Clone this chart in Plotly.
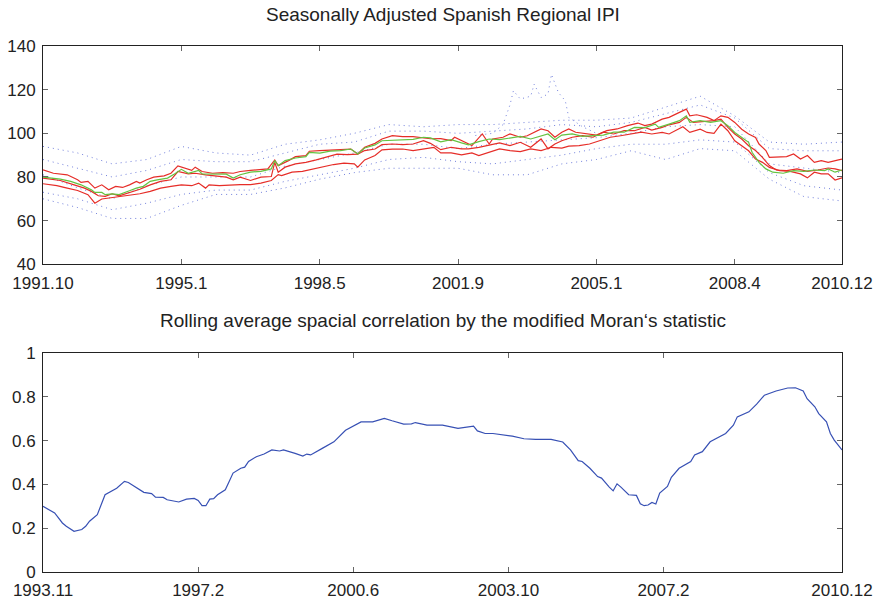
import plotly.graph_objects as go

# ---- top panel: seasonally adjusted IPI (month index from 1991.10) ----
top_ticks = [0, 40, 80, 120, 160, 200, 231]
top_labels = ['1991.10', '1995.1', '1998.5', '2001.9', '2005.1', '2008.4', '2010.12']

red_hi_x = [0, 3, 7, 10, 11, 13, 15, 17, 19, 21, 23, 25, 27, 28, 30, 32, 35, 37, 39, 41, 43, 44, 46, 49, 52, 55, 57,
            60, 63, 65, 67, 68, 71, 73, 76, 77, 80, 83, 86, 89, 91, 93, 96, 98, 101, 104, 107, 110, 112, 115,
            118, 119, 122, 124, 127, 129, 130, 133, 135, 138, 140, 142, 144, 146, 148, 150, 152, 154, 157, 160,
            163, 166, 169, 172, 174, 176, 179, 181, 184, 186, 187, 189, 192, 194, 196, 198, 200, 202, 204, 206,
            207, 209, 210, 212, 215, 217, 219, 221, 223, 225, 227, 230, 231]
red_hi = [83.3, 81.7, 81, 78.7, 77.5, 78, 74.9, 76.4, 74.1, 75.7, 75.2, 76.4, 78, 77.2, 78.7, 79.9, 80.5, 81.7, 85.1,
          84, 83, 84.5, 82.5, 81.7, 82, 81.7, 82.5,
          83, 83.3, 83.7, 87.8, 85.2, 87.5, 89.3, 89.8, 91.8, 92.1, 92.4, 92.8, 92.8, 90.5, 93.6, 95.4, 97.4, 98.9,
          98.5, 98.5, 97.9, 97.5, 97.6,
          96.7, 98.2, 95.9, 94.4, 99.7, 95.1, 97.4, 98.2, 99.7, 98.2, 98.9, 100.5, 102, 101.2, 98.2, 100.5, 102,
          100.5, 99.7, 99.2, 101.2, 102, 103.5, 104.7, 103.5,
          104.2, 106.5, 107.3, 109.6, 111.1, 108, 108.5, 107.3, 105.8, 108, 107.3, 105, 101.9, 99.7, 98.1,
          95.1, 92.1, 89, 89, 89.3, 90.5, 88.2, 89.8, 86.7, 87.5, 86.7, 87.8, 88.2]

red_mid_x = [0, 5, 9, 12, 14, 16, 18, 20, 22, 25, 28, 31, 34, 37, 39, 42, 44, 47, 50, 53, 55, 57,
             60, 63, 66, 67, 68, 70, 73, 76, 79, 82, 85, 88, 91, 93, 96, 98, 101, 104, 107, 110, 112, 115,
             118, 121, 123, 126, 129, 132, 135, 138, 141, 144, 146, 148, 150, 153, 156, 159, 162, 165, 168, 171, 174,
             176, 179, 181, 184, 186, 188, 191, 194, 196, 198, 200, 202, 204, 206, 208, 210, 212, 215, 218, 221,
             224, 227, 229, 231]
red_mid = [79.5, 78.4, 76.4, 74.9, 73.4, 71.4, 71.1, 72.3, 71.4, 72.9, 74.4, 76.4, 78, 78.7, 82.5, 81.4, 81.7, 81,
           80.5, 79.9, 78.7, 79.9,
           78.4, 79.9, 80.2, 86.7, 82.2, 84.5, 86, 86.7, 87.8, 89, 90.5, 90.2, 90.5, 92.1, 92.8, 94.8, 95.1, 94.8,
           95.1, 96.6, 95.4, 92.5,
           93.6, 92.9, 92.9, 93.6, 94.7, 95.6, 94.4, 95.9, 93.6, 97.4, 92.9, 95.1, 96.6, 98.2, 98.9, 98.2, 100.5,
           99.7, 101.2, 101.2, 102.7,
           101.5, 102.7, 103.9, 105, 107.3, 105, 105.5, 105.8, 106.5, 102.7, 99.7, 97.4, 94.3, 92.1, 89, 85.2, 83.2,
           82.9, 83.7, 82.6, 83.2, 84.1, 83.7, 82.9]

red_lo_x = [0, 4, 7, 10, 13, 15, 17, 19, 22, 25, 28, 31, 34, 37, 40, 43, 45, 47, 48, 51, 54, 57,
            60, 63, 66, 68, 69, 72, 75, 78, 81, 84, 87, 90, 91, 93, 96, 98, 101, 104, 107, 110, 113, 115,
            118, 121, 124, 126, 129, 132, 135, 138, 141, 144, 147, 150, 152, 155, 158, 161, 164, 167, 170, 173,
            176, 179, 181, 183, 185, 187, 190, 192, 194, 196, 198, 200, 202, 204, 206, 208, 210, 213, 216, 219,
            221, 223, 225, 227, 229, 231]
red_lo = [76.9, 76, 74.9, 73.8, 71.9, 68, 69.9, 70.3, 70.8, 71.4, 72.3, 73.4, 74.9, 75.7, 76.4, 76, 77.2, 74.9, 76.4,
          76, 76.4, 76.5,
          76.5, 77.2, 78.4, 81.1, 80.6, 82.2, 82.6, 83.7, 84.5, 85.7, 86.3, 86, 84.5, 87.8, 89.8, 92.4, 92.8, 92.8,
          92.1, 92.8, 93.6, 91,
          91, 90.1, 91, 89.8, 91.3, 92.9, 92.1, 91.6, 92.9, 92.1, 93.6, 93.2, 94.1, 94.4, 95.1, 96.6, 98.2, 98.9,
          99.7, 100.5,
          99.7, 100.4, 99.7, 101.2, 103, 100.4, 101.9, 100.4, 100, 104.2, 101.2, 96.6, 94.3, 92, 88.2, 86.7, 84.4,
          82.9, 82.6, 81.4, 79.6, 82.2, 81.4, 81.4, 78.6, 79.6]

green_x = [0, 5, 8, 11, 14, 15, 17, 18, 20, 22, 25, 27, 29, 31, 33, 36, 38, 40, 42, 45, 46, 49, 53, 55, 57,
           60, 63, 66, 67, 68, 70, 73, 76, 77, 80, 83, 86, 89, 91, 93, 96, 98, 101, 104, 107, 110, 112, 115,
           118, 121, 123, 126, 129, 132, 135, 138, 141, 144, 146, 148, 150, 153, 156, 159, 162, 165, 168, 171, 174,
           177, 178, 181, 184, 186, 187, 190, 193, 196, 198, 200, 202, 204, 205, 207, 209, 211, 214, 217, 220,
           223, 226, 227, 229, 231]
green = [79.9, 79, 78, 76.4, 74.1, 72.9, 72.9, 71.9, 72.3, 71.9, 73.7, 74.9, 75.7, 78, 78.7, 79.5, 81.4, 83.5, 81.7,
         83, 81.4, 81.4, 81.3, 79.5, 81,
         82.2, 82.6, 83.7, 87.5, 85.2, 87.5, 88.7, 89.3, 91.3, 90.9, 91.8, 92.1, 92.8, 90.5, 93.3, 94.7, 96.6, 96.9,
         97.2, 97.2, 98.2, 97.9, 96.1,
         97.1, 95.6, 94.7, 96.2, 97.4, 97.1, 97.7, 98.6, 97.4, 98.9, 99.7, 97.1, 99.2, 99.7, 98.6, 98.9, 99.2, 100.5,
         100.5, 102.7, 102.6,
         104.2, 102.7, 104.2, 105.8, 108, 105, 105.8, 105, 105.8, 103.5, 100.4, 98.1, 95.9, 91.3, 86.7, 83.7, 82.2,
         81.7, 82.9, 82.6, 83.2, 82.9, 83.7, 82.2, 83.2]

# regional series (blue dotted), read on a coarse 10-month grid
blue_x = [0, 10, 20, 30, 40, 50, 60, 70, 80, 90, 100, 110, 120, 130, 140, 150, 160, 170, 180, 190, 200, 210, 220, 231]
blue_hi = [94, 91, 86, 88, 94, 91, 90, 95, 97, 100, 104, 103, 104, 104, 105, 106, 106, 107, 112, 117, 108, 96, 95, 96]
blue_hi2 = [88, 84, 80, 83, 88, 87, 87, 91, 95, 96, 101, 101, 100, 101, 102, 104, 103, 105, 109, 113, 107, 93, 92, 92]
blue_mid = [81, 75, 70, 76, 80, 80, 80, 85, 88, 91, 95, 95, 93, 95, 96, 97, 98, 100, 103, 104, 103, 86, 84, 82]
blue_lo2 = [73, 70, 65, 68, 72, 74, 74, 78, 81, 84, 88, 89, 87, 86, 88, 90, 93, 95, 95, 97, 96, 82, 76, 74]
blue_lo = [70, 66, 61, 61, 67, 72, 72, 75, 79, 82, 84, 84, 84, 81, 81, 86, 88, 92, 88, 93, 92, 79, 71, 69]
spike_x = [125, 130, 133, 135, 136, 138, 141, 142, 144, 146, 147, 149, 151, 152, 156, 160]
spike = [99, 100, 104, 113, 119.5, 115.7, 117, 122.5, 116.4, 118, 127, 118.7, 114.9, 107.3, 103, 100]

# ---- bottom panel: rolling Moran statistic (month index from 1993.11) ----
bot_ticks = [0, 40, 80, 120, 160, 206]
bot_labels = ['1993.11', '1997.2', '2000.6', '2003.10', '2007.2', '2010.12']
moran_x = [0, 3, 5, 6, 8, 10, 11, 12, 14, 15, 16, 19, 21, 22, 24, 26, 28, 29, 31, 32, 35, 37, 39, 40, 41, 42, 43,
           44, 45, 47, 48, 49, 51, 52, 53, 55, 57, 59, 61, 62, 65, 67, 68, 69, 72, 75, 78, 82, 85, 88, 90, 93, 95,
           96, 99, 103, 107, 111, 112, 114, 116, 121, 124, 127, 131, 134, 136, 138, 139, 141, 143, 144, 146, 147,
           148, 149, 151, 153, 154, 155, 156, 157, 158, 159, 161, 162, 164, 167, 168, 170, 172, 176, 178, 179, 182,
           184, 186, 189, 192, 194, 196, 197, 199, 200, 202, 203, 204, 206]
moran = [0.30, 0.27, 0.224, 0.209, 0.186, 0.194, 0.209, 0.232, 0.262, 0.308, 0.353, 0.383, 0.414, 0.409, 0.388,
         0.364, 0.358, 0.342, 0.341, 0.330, 0.320, 0.333, 0.336, 0.327, 0.303, 0.303, 0.333, 0.335, 0.353, 0.376,
         0.414, 0.452, 0.474, 0.479, 0.505, 0.527, 0.539, 0.558, 0.553, 0.558, 0.542, 0.530, 0.539, 0.535, 0.565,
         0.595, 0.648, 0.686, 0.686, 0.702, 0.691, 0.676, 0.677, 0.683, 0.671, 0.671, 0.656, 0.667, 0.645, 0.633,
         0.633, 0.621, 0.609, 0.606, 0.606, 0.594, 0.558, 0.509, 0.505, 0.474, 0.436, 0.429, 0.388, 0.371, 0.403,
         0.388, 0.353, 0.350, 0.312, 0.303, 0.306, 0.318, 0.311, 0.361, 0.391, 0.433, 0.474, 0.505, 0.535, 0.550,
         0.595, 0.633, 0.671, 0.709, 0.732, 0.767, 0.808, 0.827, 0.841, 0.842, 0.827, 0.792, 0.755, 0.724, 0.686,
         0.633, 0.603, 0.558]

fig = go.Figure()

blue = 'rgba(55,75,205,0.7)'
for ys in [blue_hi, blue_hi2, blue_mid, blue_lo2, blue_lo]:
    fig.add_trace(go.Scatter(x=blue_x, y=ys, mode='lines', line=dict(color=blue, width=1, dash='1px,4px'),
                             xaxis='x', yaxis='y'))
fig.add_trace(go.Scatter(x=spike_x, y=spike, mode='lines', line=dict(color=blue, width=1, dash='1px,4px'),
                         xaxis='x', yaxis='y'))

red = 'rgb(230,45,40)'
for xs, ys in [(red_hi_x, red_hi), (red_mid_x, red_mid), (red_lo_x, red_lo)]:
    fig.add_trace(go.Scatter(x=xs, y=ys, mode='lines', line=dict(color=red, width=1.2), xaxis='x', yaxis='y'))
fig.add_trace(go.Scatter(x=green_x, y=green, mode='lines', line=dict(color='rgb(100,195,65)', width=1.2),
                         xaxis='x', yaxis='y'))

fig.add_trace(go.Scatter(x=moran_x, y=moran, mode='lines', line=dict(color='rgb(55,80,180)', width=1.2),
                         xaxis='x2', yaxis='y2'))

tick_font = dict(family='Liberation Sans, Arial, sans-serif', size=17, color='#222')
title_font = dict(family='Liberation Sans, Arial, sans-serif', size=19, color='#222')
ax = dict(showgrid=False, zeroline=False, showline=True, linecolor='#222', linewidth=1, mirror='ticks',
          ticks='inside', ticklen=5, tickcolor='#666', tickfont=tick_font, automargin=False)

fig.update_layout(
    width=887, height=605,
    margin=dict(l=43, r=45, t=46, b=33, autoexpand=False),
    paper_bgcolor='white', plot_bgcolor='white',
    showlegend=False,
    xaxis=dict(ax, domain=[0, 1], range=[0, 231], tickvals=top_ticks, ticktext=top_labels, anchor='y',
               ticklabelstandoff=3),
    yaxis=dict(ax, domain=[0.585, 1], range=[40, 140], tickvals=[40, 60, 80, 100, 120, 140], anchor='x',
               ticklabelstandoff=3),
    xaxis2=dict(ax, domain=[0, 1], range=[0, 206], tickvals=bot_ticks, ticktext=bot_labels, anchor='y2',
                ticklabelstandoff=3),
    yaxis2=dict(ax, domain=[0, 0.416], range=[0, 1], tickvals=[0, 0.2, 0.4, 0.6, 0.8, 1],
                ticktext=['0', '0.2', '0.4', '0.6', '0.8', '1'], anchor='x2', ticklabelstandoff=3),
)

# titles placed in pixel terms above each panel
plot_h = 605 - 46 - 33
fig.add_annotation(text='Seasonally Adjusted Spanish Regional IPI', x=0.5, xref='paper',
                   y=1 + (46 - 15) / plot_h, yref='paper', yanchor='middle', showarrow=False, font=title_font)
fig.add_annotation(text='Rolling average spacial correlation by the modified Moran‘s statistic', x=0.5,
                   xref='paper', y=1 - (320 - 46) / plot_h, yref='paper', yanchor='middle', showarrow=False,
                   font=title_font)

# page body has a default 8px margin; drop it so the 887x605 figure fills the window
fig.write_html("out.html", config={'displayModeBar': False},
               post_script="document.body.style.margin='0';")
